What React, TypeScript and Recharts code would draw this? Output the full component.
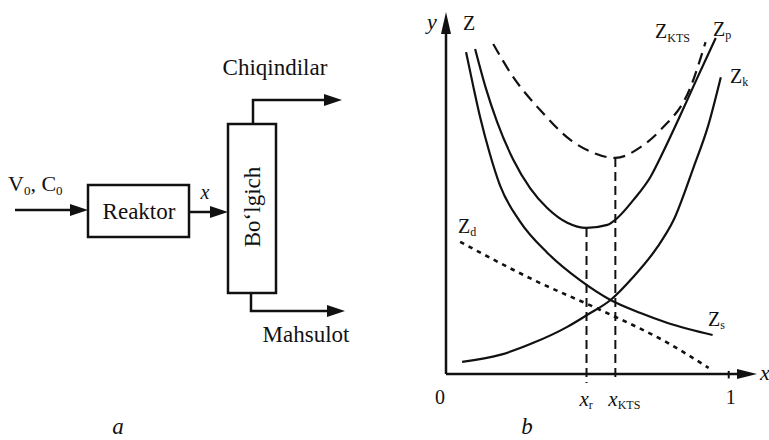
import React from 'react'
import { LineChart, Line, XAxis, YAxis, ReferenceLine, ReferenceDot } from 'recharts'

// curve values (x: 0..1, y: arbitrary cost units)
const Z_S = [
  { x: 0.071, y: 10.67 }, { x: 0.095, y: 9.6 }, { x: 0.121, y: 8.5 }, { x: 0.155, y: 7.3 },
  { x: 0.191, y: 6.25 }, { x: 0.262, y: 5.05 }, { x: 0.358, y: 4.02 }, { x: 0.475, y: 3.1 },
  { x: 0.582, y: 2.45 }, { x: 0.688, y: 2.02 }, { x: 0.784, y: 1.69 }, { x: 0.943, y: 1.29 },
]
const Z_TOTAL = [
  { x: 0.103, y: 10.77 }, { x: 0.14, y: 9.5 }, { x: 0.181, y: 8.35 }, { x: 0.238, y: 7.1 },
  { x: 0.298, y: 6.15 }, { x: 0.358, y: 5.5 }, { x: 0.429, y: 5.01 }, { x: 0.497, y: 4.84 },
  { x: 0.571, y: 4.94 }, { x: 0.606, y: 5.17 }, { x: 0.663, y: 5.77 }, { x: 0.723, y: 6.53 },
  { x: 0.77, y: 7.4 }, { x: 0.83, y: 8.6 }, { x: 0.89, y: 9.84 }, { x: 0.954, y: 11.14 },
]
const Z_K = [
  { x: 0.057, y: 0.4 }, { x: 0.191, y: 0.63 }, { x: 0.309, y: 1.03 }, { x: 0.429, y: 1.56 },
  { x: 0.5, y: 1.96 }, { x: 0.582, y: 2.45 }, { x: 0.663, y: 3.22 }, { x: 0.748, y: 4.21 },
  { x: 0.805, y: 5.1 }, { x: 0.876, y: 6.86 }, { x: 0.926, y: 8.19 }, { x: 0.972, y: 9.84 },
]
const Z_KTS = [
  { x: 0.167, y: 10.94 }, { x: 0.238, y: 9.84 }, { x: 0.333, y: 8.75 }, { x: 0.44, y: 7.76 },
  { x: 0.521, y: 7.33 }, { x: 0.599, y: 7.16 }, { x: 0.688, y: 7.52 }, { x: 0.759, y: 8.09 },
  { x: 0.865, y: 9.51 }, { x: 0.918, y: 11.0 },
]
const Z_D = [
  { x: 0.05, y: 4.38 }, { x: 0.309, y: 3.12 }, { x: 0.546, y: 2.12 }, { x: 0.784, y: 1.03 },
  { x: 0.929, y: 0.2 },
]

const X_R = 0.497
const X_KTS = 0.599
const Z_MIN = 4.84
const ZKTS_MIN = 7.16

const X_TICKS = [0, X_R, X_KTS, 1]
const TICK_LABELS: Record<string, [string, string]> = {
  '0': ['0', ''],
  [String(X_R)]: ['x', 'r'],
  [String(X_KTS)]: ['x', 'KTS'],
  '1': ['1', ''],
}

const SERIF = '"Liberation Serif", "DejaVu Serif", serif'
const INK = '#111'

const XTick = (props: any) => {
  const { x, y, payload } = props
  const [main, sub] = TICK_LABELS[String(payload.value)] ?? [String(payload.value), '']
  if (!sub) {
    return (
      <text x={payload.value === 0 ? x - 6 : x + 2} y={y + 4} textAnchor="middle" fontFamily={SERIF} fontSize={20} fill={INK}>
        {main}
      </text>
    )
  }
  return (
    <text x={x - 7} y={y + 6} fontFamily={SERIF} fontSize={21} fill={INK}>
      <tspan fontStyle="italic">{main}</tspan>
      <tspan fontSize={12} dy={3}>{sub}</tspan>
    </text>
  )
}

const ArrowRight = (props: any) => (
  <polygon points={`${props.cx},${props.cy} ${props.cx - 20},${props.cy - 5} ${props.cx - 20},${props.cy + 5}`} fill={INK} />
)
const ArrowUp = (props: any) => (
  <polygon points={`${props.cx},${props.cy} ${props.cx - 5},${props.cy + 22} ${props.cx + 5},${props.cy + 22}`} fill={INK} />
)

function Scheme() {
  return (
    <g stroke={INK} strokeWidth={2.5} fill="none">
      <line x1={15} y1={210} x2={74} y2={210} />
      <polygon points="70,204 88,210 70,216" fill={INK} stroke="none" />
      <rect x={88} y={185} width={101} height={52} />
      <line x1={189} y1={212} x2={214} y2={212} />
      <polygon points="210,206 228,212 210,218" fill={INK} stroke="none" />
      <rect x={228} y={124} width={48} height={169} />
      <polyline points="253,124 253,100 328,100" />
      <polygon points="324,94 342,100 324,106" fill={INK} stroke="none" />
      <polyline points="251,293 251,311 331,311" />
      <polygon points="327,305 345,311 327,317" fill={INK} stroke="none" />
    </g>
  )
}

function Texts() {
  return (
    <g fontFamily={SERIF} fill={INK}>
      <text x={8} y={191} fontSize={22}>
        V<tspan fontSize={13} dy={4}>0</tspan><tspan dy={-4}>, C</tspan><tspan fontSize={13} dy={4}>0</tspan>
      </text>
      <text x={139} y={219} fontSize={23} textAnchor="middle">Reaktor</text>
      <text x={205} y={199} fontSize={20} fontStyle="italic" textAnchor="middle">x</text>
      <text transform="translate(252,207) rotate(-90)" fontSize={23} textAnchor="middle" dy={8}>Bo‘lgich</text>
      <text x={275} y={75} fontSize={23} textAnchor="middle">Chiqindilar</text>
      <text x={306} y={342} fontSize={23} textAnchor="middle">Mahsulot</text>
      <text x={118} y={434} fontSize={23} fontStyle="italic" textAnchor="middle">a</text>

      <text x={432} y={29} fontSize={22} fontStyle="italic" textAnchor="middle">y</text>
      <text x={463} y={30} fontSize={20}>Z</text>
      <text x={655} y={38} fontSize={20}>Z<tspan fontSize={12} dy={4}>KTS</tspan></text>
      <text x={713} y={36} fontSize={20}>Z<tspan fontSize={12} dy={3}>p</tspan></text>
      <text x={730} y={83} fontSize={20}>Z<tspan fontSize={12} dy={3}>k</tspan></text>
      <text x={458} y={233} fontSize={20}>Z<tspan fontSize={12} dy={3}>d</tspan></text>
      <text x={708} y={326} fontSize={20}>Z<tspan fontSize={12} dy={3}>s</tspan></text>
      <text x={760} y={380} fontSize={22} fontStyle="italic">x</text>
      <text x={527} y={434} fontSize={23} fontStyle="italic" textAnchor="middle">b</text>
    </g>
  )
}

export default function App() {
  return (
    <div style={{ position: 'absolute', left: 0, top: 0, width: 769, height: 440, background: '#fff' }}>
      <LineChart width={769} height={440} margin={{ top: 12, right: 12, bottom: 18, left: 446 }}>
        <XAxis
          type="number"
          dataKey="x"
          domain={[0, 1.1]}
          ticks={X_TICKS}
          interval={0}
          axisLine={false}
          tickLine={false}
          height={30}
          tick={<XTick />}
          allowDataOverflow
        />
        <YAxis type="number" dataKey="y" domain={[-0.6, 12]} hide allowDataOverflow />

        {/* axes with arrow heads */}
        <ReferenceLine segment={[{ x: 0, y: 0 }, { x: 0, y: 11.5 }]} stroke={INK} strokeWidth={2.5} ifOverflow="visible" />
        <ReferenceLine segment={[{ x: 0, y: 0 }, { x: 1.06, y: 0 }]} stroke={INK} strokeWidth={2.5} ifOverflow="visible" />
        <ReferenceDot x={1.1} y={0} r={1} shape={<ArrowRight />} ifOverflow="visible" />
        <ReferenceDot x={0} y={12} r={1} shape={<ArrowUp />} ifOverflow="visible" />
        <ReferenceLine segment={[{ x: 1, y: 0.1 }, { x: 1, y: -0.15 }]} stroke={INK} strokeWidth={2} ifOverflow="visible" />

        {/* optimum markers */}
        <ReferenceLine segment={[{ x: X_R, y: Z_MIN }, { x: X_R, y: -0.3 }]} stroke={INK} strokeWidth={2} strokeDasharray="9 5" ifOverflow="visible" />
        <ReferenceLine segment={[{ x: X_KTS, y: ZKTS_MIN }, { x: X_KTS, y: -0.1 }]} stroke={INK} strokeWidth={2} strokeDasharray="9 5" ifOverflow="visible" />

        <Line data={Z_S} dataKey="y" type="monotone" stroke={INK} strokeWidth={2.2} dot={false} isAnimationActive={false} />
        <Line data={Z_TOTAL} dataKey="y" type="monotone" stroke={INK} strokeWidth={2.2} dot={false} isAnimationActive={false} />
        <Line data={Z_K} dataKey="y" type="monotone" stroke={INK} strokeWidth={2.2} dot={false} isAnimationActive={false} />
        <Line data={Z_KTS} dataKey="y" type="monotone" stroke={INK} strokeWidth={2.2} strokeDasharray="12 7" dot={false} isAnimationActive={false} />
        <Line data={Z_D} dataKey="y" type="monotone" stroke={INK} strokeWidth={2.6} strokeDasharray="4.5 5" dot={false} isAnimationActive={false} />
      </LineChart>
      <svg width={769} height={440} style={{ position: 'absolute', left: 0, top: 0, pointerEvents: 'none' }}>
        <Scheme />
        <Texts />
      </svg>
    </div>
  )
}
